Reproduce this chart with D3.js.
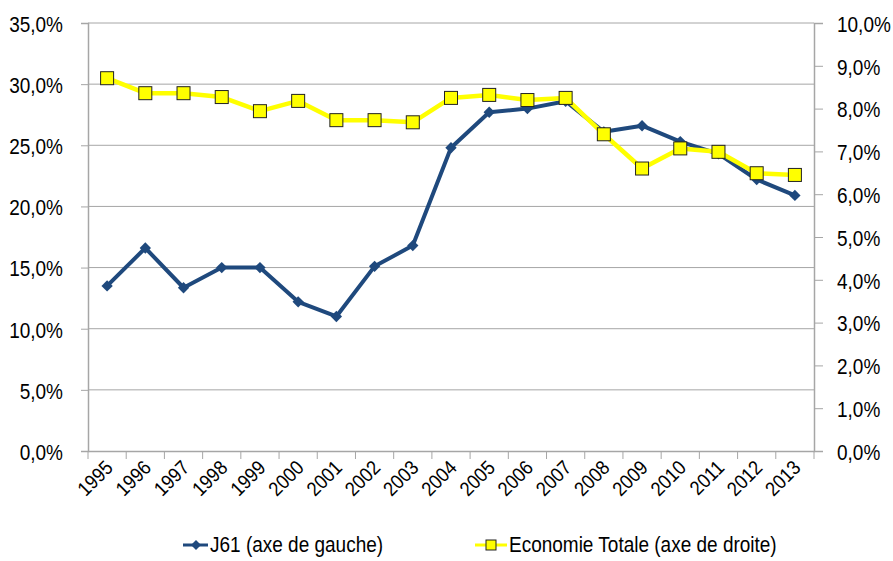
<!DOCTYPE html>
<html>
<head>
<meta charset="utf-8">
<script src="https://cdn.jsdelivr.net/npm/d3@7"></script>
<style>
  body { margin: 0; background: #fff; }
  text { font-family: "Liberation Sans", Arial, sans-serif; fill: #000; }
</style>
</head>
<body>
<div id="chart"></div>
<script>
// years on the x axis
let years = ["1995","1996","1997","1998","1999","2000","2001","2002","2003","2004",
             "2005","2006","2007","2008","2009","2010","2011","2012","2013"];
// J61, left axis (%)
let j61 = [13.5, 16.6, 13.35, 15.0, 15.0, 12.2, 11.0, 15.1, 16.8, 24.8,
           27.7, 28.0, 28.6, 26.1, 26.6, 25.3, 24.3, 22.2, 20.9];
// Economie totale, right axis (%)
let ecoTotale = [8.71, 8.36, 8.36, 8.27, 7.94, 8.18, 7.73, 7.73, 7.68, 8.25,
                 8.32, 8.20, 8.25, 7.40, 6.60, 7.07, 6.99, 6.49, 6.45];
let leftTicks = [0, 5, 10, 15, 20, 25, 30, 35];
let rightTicks = [0, 1, 2, 3, 4, 5, 6, 7, 8, 9, 10];
let legendLabels = ["J61 (axe de gauche)", "Economie Totale (axe de droite)"];

let width = 893, height = 561;
let plotLeft = 88, plotRight = 814, plotTop = 23, plotBottom = 451;
let blue = "#1F497D", yellow = "#FFFF00";
let stretch = 1.12;   // source text looks a bit tall

let fmt = (v) => v.toFixed(1).replace(".", ",") + "%";

let svg = d3.select("#chart").append("svg")
    .attr("width", width)
    .attr("height", height);

let xScale = d3.scaleBand().domain(years).range([plotLeft, plotRight]).padding(0);
let yLeft = d3.scaleLinear().domain([0, 35]).range([plotBottom, plotTop]);
let yRight = d3.scaleLinear().domain([0, 10]).range([plotBottom, plotTop]);
let xc = (d) => xScale(d) + xScale.bandwidth() / 2;

// gridlines
svg.append("g").selectAll("line")
    .data(leftTicks.filter(d => d > 0))
    .join("line")
    .attr("x1", plotLeft).attr("x2", plotRight)
    .attr("y1", d => yLeft(d)).attr("y2", d => yLeft(d))
    .attr("stroke", "#a6a6a6").attr("stroke-width", 1);

// left axis
let leftAxis = svg.append("g")
    .attr("transform", `translate(${plotLeft},0)`)
    .call(d3.axisLeft(yLeft).tickValues(leftTicks).tickSize(7).tickPadding(0).tickFormat(fmt));

// right axis
let rightAxis = svg.append("g")
    .attr("transform", `translate(${plotRight},0)`)
    .call(d3.axisRight(yRight).tickValues(rightTicks).tickSize(9).tickPadding(0).tickFormat(fmt));

// bottom axis
let bottomAxis = svg.append("g")
    .attr("transform", `translate(0,${plotBottom})`)
    .call(d3.axisBottom(xScale).tickSize(0).tickFormat(""));

bottomAxis.selectAll(".bt")
    .data(d3.range(years.length + 1))
    .join("line")
    .attr("x1", i => plotLeft + i * xScale.bandwidth())
    .attr("x2", i => plotLeft + i * xScale.bandwidth())
    .attr("y1", 0).attr("y2", 8)
    .attr("stroke", "#a6a6a6");

[leftAxis, rightAxis, bottomAxis].forEach(g => {
    g.select(".domain").attr("stroke", "#a6a6a6").attr("stroke-width", 1.5);
    g.selectAll(".tick line").attr("stroke", "#a6a6a6");
});

leftAxis.selectAll(".tick text")
    .attr("x", null).attr("dy", null)
    .attr("text-anchor", "end")
    .attr("dominant-baseline", "central")
    .attr("font-size", 19)
    .attr("transform", `translate(-25,1) scale(1,${stretch})`);

rightAxis.selectAll(".tick text")
    .attr("x", null).attr("dy", null)
    .attr("text-anchor", "start")
    .attr("dominant-baseline", "central")
    .attr("font-size", 19)
    .attr("transform", `translate(23,1) scale(1,${stretch})`);

// x labels rotated
svg.append("g").selectAll("text")
    .data(years)
    .join("text")
    .attr("text-anchor", "end")
    .attr("font-size", 18)
    .attr("transform", d => `translate(${xc(d) + 7},${plotBottom + 18}) rotate(-45) scale(1,${stretch})`)
    .text(d => d);

// J61 line
let blueLine = d3.line().x((d, i) => xc(years[i])).y(d => yLeft(d));
svg.append("path")
    .datum(j61)
    .attr("d", blueLine)
    .attr("fill", "none")
    .attr("stroke", blue)
    .attr("stroke-width", 4)
    .attr("stroke-linejoin", "round");

let diamond = d3.symbol().type(d3.symbolSquare).size(64);
svg.append("g").selectAll("path")
    .data(j61)
    .join("path")
    .attr("d", diamond)
    .attr("transform", (d, i) => `translate(${xc(years[i])},${yLeft(d)}) rotate(45)`)
    .attr("fill", blue);

// Economie totale line
let yellowLine = d3.line().x((d, i) => xc(years[i])).y(d => yRight(d));
svg.append("path")
    .datum(ecoTotale)
    .attr("d", yellowLine)
    .attr("fill", "none")
    .attr("stroke", yellow)
    .attr("stroke-width", 4.5)
    .attr("stroke-linejoin", "round");

svg.append("g").selectAll("rect")
    .data(ecoTotale)
    .join("rect")
    .attr("x", (d, i) => xc(years[i]) - 6.5)
    .attr("y", d => yRight(d) - 6.5)
    .attr("width", 13).attr("height", 13)
    .attr("fill", yellow)
    .attr("stroke", "#222")
    .attr("stroke-width", 1);

// legend
let ly = 545;
let leg1 = svg.append("g");
leg1.append("line").attr("x1", 183).attr("x2", 208).attr("y1", ly).attr("y2", ly)
    .attr("stroke", blue).attr("stroke-width", 3);
leg1.append("path").attr("d", d3.symbol().type(d3.symbolSquare).size(50))
    .attr("transform", `translate(196,${ly}) rotate(45)`).attr("fill", blue);
leg1.append("text")
    .attr("transform", `translate(210,${ly}) scale(1,${stretch})`)
    .attr("dominant-baseline", "central")
    .attr("font-size", 19)
    .text(legendLabels[0]);

let leg2 = svg.append("g");
leg2.append("line").attr("x1", 475).attr("x2", 507).attr("y1", ly).attr("y2", ly)
    .attr("stroke", yellow).attr("stroke-width", 3);
leg2.append("rect").attr("x", 486).attr("y", ly - 5).attr("width", 10).attr("height", 10)
    .attr("fill", yellow).attr("stroke", "#222").attr("stroke-width", 1);
leg2.append("text")
    .attr("transform", `translate(509,${ly}) scale(1,${stretch})`)
    .attr("dominant-baseline", "central")
    .attr("font-size", 19)
    .text(legendLabels[1]);
</script>
</body>
</html>
